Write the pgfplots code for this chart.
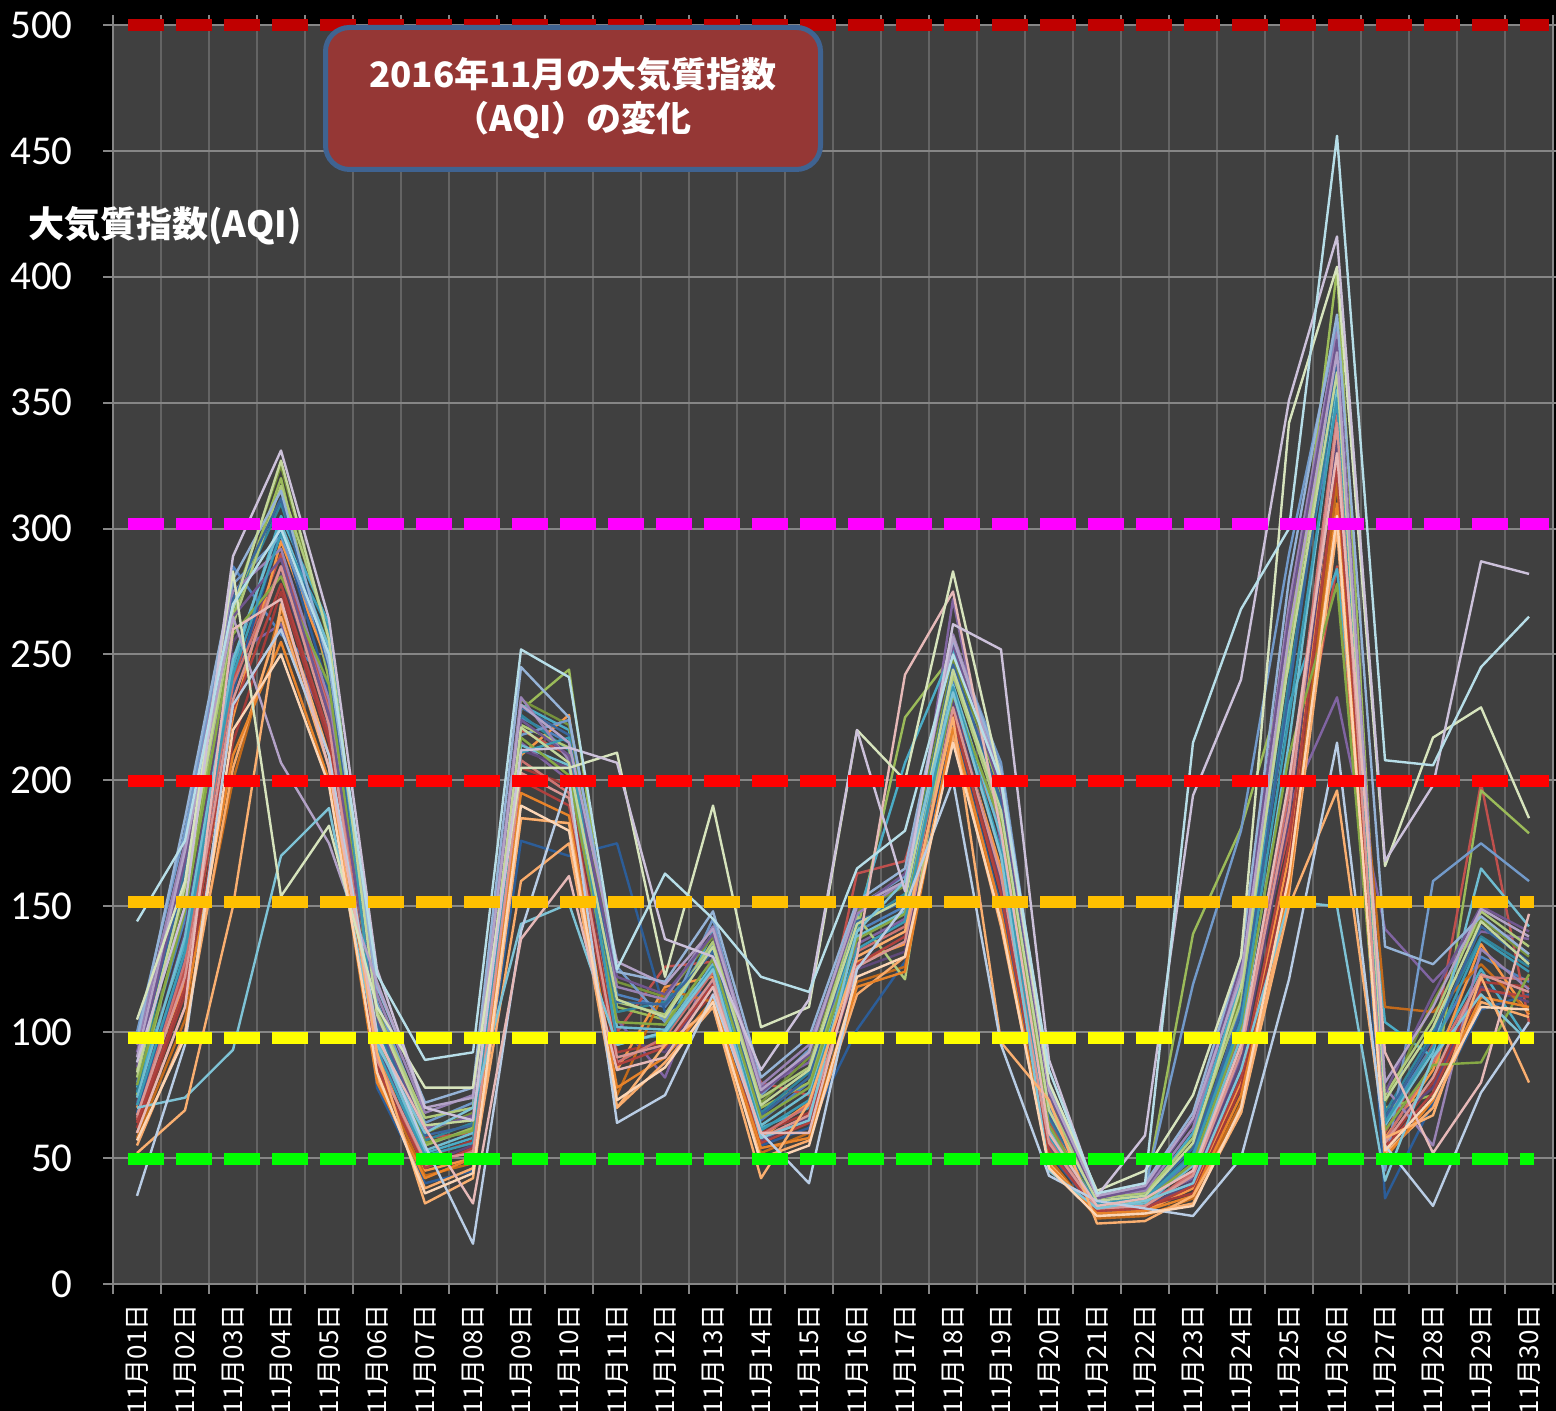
\documentclass[border=0pt]{standalone}
\usepackage{pgfplots}
\pgfplotsset{compat=1.18}
\usepackage{pgfplotstable}
\usepackage{fontspec}
\setmainfont{Carlito}
\newfontfamily\jp{Noto Sans CJK JP}

\definecolor{plotbg}{HTML}{404040}
\definecolor{gridh}{HTML}{868686}
\definecolor{gridv}{HTML}{646464}
\definecolor{boxfill}{HTML}{953735}
\definecolor{boxborder}{HTML}{3F6391}
\definecolor{lvl500}{HTML}{C00000}
\definecolor{lvl300}{HTML}{FF00FF}
\definecolor{lvl200}{HTML}{FF0000}
\definecolor{lvl150}{HTML}{FFC000}
\definecolor{lvl100}{HTML}{FFFF00}
\definecolor{lvl50}{HTML}{00FF00}
% series colours (Office 2007 palette and its shades)
\definecolor{c1}{HTML}{4F81BD}\definecolor{c2}{HTML}{C0504D}\definecolor{c3}{HTML}{9BBB59}
\definecolor{c4}{HTML}{8064A2}\definecolor{c5}{HTML}{4BACC6}\definecolor{c6}{HTML}{F79646}
\definecolor{c7}{HTML}{2C5D98}\definecolor{c8}{HTML}{A33B38}\definecolor{c9}{HTML}{76923C}
\definecolor{c10}{HTML}{5F4879}\definecolor{c11}{HTML}{31859C}\definecolor{c12}{HTML}{C36A1B}
\definecolor{c13}{HTML}{729ACA}\definecolor{c14}{HTML}{CD7371}\definecolor{c15}{HTML}{AFC97A}
\definecolor{c16}{HTML}{9983B5}\definecolor{c17}{HTML}{6FBDD1}\definecolor{c18}{HTML}{F9AB6B}
\definecolor{c19}{HTML}{3A679C}\definecolor{c20}{HTML}{B0413E}\definecolor{c21}{HTML}{86A845}
\definecolor{c22}{HTML}{70568F}\definecolor{c23}{HTML}{3B9AB3}\definecolor{c24}{HTML}{E8832A}
\definecolor{c25}{HTML}{95B3D7}\definecolor{c26}{HTML}{D99694}\definecolor{c27}{HTML}{C3D69B}
\definecolor{c28}{HTML}{B3A2C7}\definecolor{c29}{HTML}{7EC3D6}\definecolor{c30}{HTML}{FAAF70}
\definecolor{c31}{HTML}{B9CDE5}\definecolor{c32}{HTML}{E6B9B8}\definecolor{c33}{HTML}{D7E4BD}
\definecolor{c34}{HTML}{CCC1DA}\definecolor{c35}{HTML}{B7DEE8}\definecolor{c36}{HTML}{FCD5B5}

% AQI per day (rows) and station (columns)
\pgfplotstableread{
d s1 s2 s3 s4 s5 s6 s7 s8 s9 s10 s11 s12 s13 s14 s15 s16 s17 s18 s19 s20 s21 s22 s23 s24 s25 s26 s27 s28 s29 s30 s31 s32 s33 s34 s35 s36
1 80 65 75 92 78 70 68 62 85 72 76 58 100 66 82 95 74 55 88 64 79 86 71 60 97 67 84 90 70 52 35 60 105 88 144 57
2 145 125 150 170 135 120 130 115 155 140 165 105 180 128 160 175 138 100 162 118 148 168 132 110 185 122 158 172 74 69 95 110 160 150 176 98
3 285 240 265 250 245 225 235 215 270 255 268 200 278 238 262 275 248 205 272 228 258 265 242 210 280 232 268 265 93 150 230 260 283 289 270 220
4 258 290 320 262 305 295 300 275 325 282 310 268 297 285 317 292 302 265 312 278 281 288 298 255 315 285 327 207 170 270 260 272 154 331 300 250
5 240 230 240 220 262 245 235 215 255 225 250 210 248 228 258 232 253 205 244 218 238 226 260 200 246 222 256 175 189 210 210 205 182 264 250 198
6 100 100 100 105 95 92 78 88 110 96 102 85 112 90 108 115 97 82 104 86 99 106 93 80 118 89 107 120 95 92 100 98 110 125 123 84
7 55 58 55 62 52 45 40 50 60 48 57 43 64 47 66 68 53 38 59 46 56 61 51 42 72 49 63 70 60 32 55 62 78 70 89 36
8 62 60 62 66 58 50 45 57 68 55 64 48 72 53 70 75 60 46 63 54 61 67 56 50 78 52 65 74 70 42 16 32 78 65 92 44
9 225 220 228 215 230 210 176 205 232 212 226 185 218 208 222 233 214 160 229 200 217 224 211 195 245 203 221 230 143 185 140 137 205 212 252 190
10 215 210 244 200 220 226 170 198 222 205 212 183 224 195 213 208 206 175 218 190 202 210 217 186 225 193 207 215 151 183 200 162 205 213 241 180
11 115 100 110 105 95 85 175 92 120 98 108 75 126 88 112 118 102 70 112 87 104 122 96 78 124 90 113 128 95 70 64 85 211 207 125 73
12 110 126 105 82 100 118 108 96 114 92 112 117 104 98 107 113 101 88 111 94 103 115 99 90 120 95 106 119 100 95 75 90 122 137 163 86
13 135 128 125 130 140 122 118 115 138 120 133 112 145 124 136 142 127 110 132 119 129 139 126 113 148 121 134 141 125 110 115 118 190 130 145 112
14 65 80 70 78 62 58 55 60 72 57 68 52 75 59 74 79 63 50 67 56 66 76 61 54 82 58 71 77 58 42 60 60 102 85 122 48
15 80 75 80 88 70 72 62 68 90 66 84 60 93 71 86 95 76 57 82 64 78 91 73 58 98 67 85 92 65 72 40 60 110 113 116 55
16 140 163 140 135 145 128 101 130 148 125 142 120 150 132 146 147 138 115 144 127 137 149 133 118 152 126 143 150 140 130 125 130 220 220 165 122
17 150 168 225 145 207 135 128 140 158 132 155 126 162 142 121 160 148 130 152 138 147 163 144 124 165 136 153 160 160 140 150 242 200 156 180 130
18 240 230 250 272 252 228 222 225 248 232 245 220 255 235 242 258 238 218 246 226 234 254 237 221 256 229 244 257 235 225 200 275 283 262 250 215
19 205 180 195 175 200 165 150 158 198 160 190 145 207 170 185 202 178 142 192 155 183 196 172 148 204 162 188 199 170 96 95 180 200 252 200 144
20 70 65 60 62 58 68 52 55 74 54 66 50 78 57 72 76 61 48 67 53 63 75 59 47 80 56 69 77 45 73 43 60 80 89 85 46
21 32 30 32 31 33 28 29 30 34 29 33 26 35 30 34 35 31 27 33 29 31 34 32 28 36 30 33 35 30 24 33 31 37 35 36 27
22 33 30 36 33 35 29 30 31 37 30 34 27 38 31 36 37 32 28 35 30 33 38 34 29 40 31 35 39 33 25 30 34 45 59 40 28
23 50 45 139 42 60 38 40 36 55 41 52 34 119 44 58 62 47 32 54 39 48 65 51 35 68 43 56 66 40 35 27 45 75 194 215 31
24 110 100 181 90 120 80 85 78 115 88 105 72 180 95 112 125 98 68 108 82 102 128 104 75 130 92 118 122 85 68 50 95 130 240 268 70
25 250 180 245 190 230 170 200 165 260 185 240 160 290 195 255 270 215 155 235 175 210 265 225 158 280 188 248 258 152 150 121 200 342 351 300 162
26 350 285 403 233 284 340 330 320 372 335 360 318 380 345 365 378 355 300 368 325 278 375 352 310 385 342 362 370 150 196 215 330 404 416 456 305
27 65 60 70 141 104 58 34 55 72 62 68 110 45 57 75 78 63 52 66 54 61 76 64 50 134 56 73 80 41 58 55 92 166 168 208 53
28 95 95 75 120 90 85 72 80 112 78 100 108 160 88 105 55 92 70 98 76 87 115 94 73 127 82 102 110 90 67 31 52 217 198 206 74
29 130 199 196 140 125 135 109 120 145 118 138 127 175 122 148 133 165 112 142 117 88 150 137 114 146 123 144 149 115 122 76 80 229 287 245 110
30 120 104 179 137 96 107 115 118 130 112 126 108 160 121 134 117 142 106 128 114 123 140 124 110 131 116 127 138 96 80 104 147 185 282 265 109
}\aqi

\begin{document}
\begin{tikzpicture}
\path[fill=black, use as bounding box] (0,0) rectangle (778pt,705.5pt);
\begin{axis}[
    at={(56.5pt,63.5pt)}, anchor=south west,
    width=720pt, height=629.5pt, scale only axis,
    xmin=0.5, xmax=30.5, ymin=0, ymax=500,
    clip=false,
    axis background/.style={fill=plotbg},
    axis line style={draw=gridh, line width=1pt},
    ytick={0,50,...,500},
    ymajorgrids, y grid style={draw=gridh, line width=1pt},
    xtick={0.5,1.5,...,30.5}, xticklabels={},
    xmajorgrids, x grid style={draw=gridv, line width=1.2pt},
    tick align=outside, major tick length=5pt,
    tick style={draw=gridh, line width=1pt},
    extra x ticks={1,...,30},
    extra x tick labels={11月01日,11月02日,11月03日,11月04日,11月05日,11月06日,11月07日,11月08日,11月09日,11月10日,11月11日,11月12日,11月13日,11月14日,11月15日,11月16日,11月17日,11月18日,11月19日,11月20日,11月21日,11月22日,11月23日,11月24日,11月25日,11月26日,11月27日,11月28日,11月29日,11月30日},
    extra x tick style={grid=none, major tick length=0pt,
        xticklabel style={yshift=-10pt, rotate=90, anchor=east, inner sep=0pt,
            text=white, font=\jp\fontsize{13}{13}\selectfont}},
    yticklabel style={anchor=east, inner sep=0pt, xshift=-15pt,
        text=white, font=\fontsize{20.5}{24}\selectfont},
    /pgf/number format/assume math mode=true,
]
\pgfplotsinvokeforeach{1,...,36}{
    \addplot[color=c#1, line width=1.2pt, line join=round] table[x=d, y=s#1]{\aqi};
}
% reference levels
\addplot[color=lvl500, line width=6pt, dash pattern=on 18pt off 6pt] coordinates {(0.8125,500) (30.42,500)};
\addplot[color=lvl300, line width=6pt, dash pattern=on 18pt off 6pt] coordinates {(0.8125,301.7) (30.42,301.7)};
\addplot[color=lvl200, line width=6pt, dash pattern=on 18pt off 6pt] coordinates {(0.8125,199.7) (30.42,199.7)};
\addplot[color=lvl150, line width=6pt, dash pattern=on 18pt off 6pt] coordinates {(0.8125,151.6) (30.1,151.6)};
\addplot[color=lvl100, line width=6pt, dash pattern=on 18pt off 6pt] coordinates {(0.8125,97.7) (30.1,97.7)};
\addplot[color=lvl50, line width=6pt, dash pattern=on 18pt off 6pt] coordinates {(0.8125,49.6) (30.1,49.6)};
\end{axis}
\node[draw=boxborder, line width=2.5pt, fill=boxfill, rounded corners=12pt,
      minimum width=247.5pt, minimum height=71pt, align=center, text=white,
      font=\jp\bfseries\fontsize{17.5}{22}\selectfont] at (286.5pt,656.25pt)
      {2016年11月の大気質指数\\（AQI）の変化};
\node[anchor=west, inner sep=0pt, text=white, font=\jp\bfseries\fontsize{18}{18}\selectfont]
      at (14pt,592.5pt) {大気質指数(AQI)};
\end{tikzpicture}
\end{document}
